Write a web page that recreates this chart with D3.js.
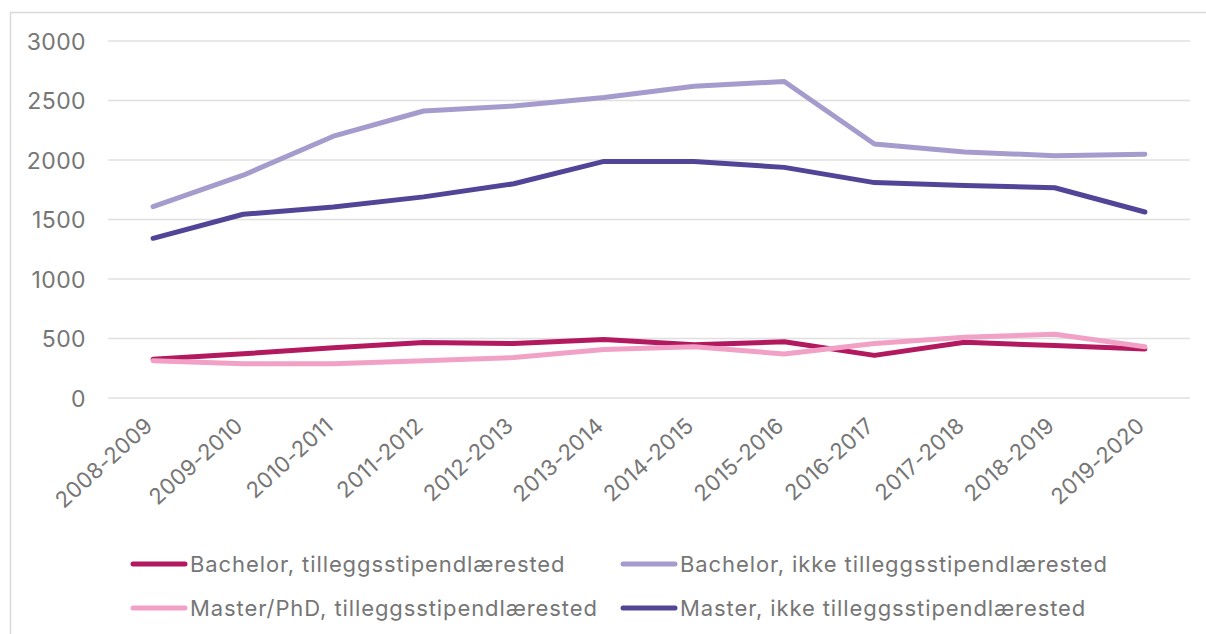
<!DOCTYPE html>
<html>
<head>
<meta charset="utf-8">
<script src="https://cdn.jsdelivr.net/npm/d3@7"></script>
<style>
  html, body { margin: 0; padding: 0; background: #fff; }
  svg { display: block; font-family: Inter, "Noto Sans", sans-serif; }
</style>
</head>
<body>
<svg id="chart" width="1206" height="634"></svg>
<script>
const categories = ["2008-2009","2009-2010","2010-2011","2011-2012","2012-2013","2013-2014","2014-2015","2015-2016","2016-2017","2017-2018","2018-2019","2019-2020"];
const bachelorTillegg = [325, 372, 422, 467, 458, 492, 447, 472, 358, 468, 441, 412];
const bachelorIkke = [1608, 1872, 2200, 2412, 2454, 2526, 2620, 2660, 2135, 2068, 2036, 2048];
const masterTillegg = [314, 287, 287, 312, 340, 408, 430, 370, 458, 510, 535, 430];
const masterIkke = [1342, 1544, 1605, 1690, 1800, 1988, 1988, 1938, 1810, 1785, 1767, 1563];
const yTicks = [0, 500, 1000, 1500, 2000, 2500, 3000];

const seriesNames = ["Bachelor, tilleggsstipendlærested","Bachelor, ikke tilleggsstipendlærested","Master/PhD, tilleggsstipendlærested","Master, ikke tilleggsstipendlærested"];
const seriesValues = [bachelorTillegg, bachelorIkke, masterTillegg, masterIkke];
const colors = ["#b3195e", "#a59bcc", "#f2a1c6", "#524597"];
const drawOrder = [1, 3, 0, 2];

const svg = d3.select("#chart");

// outer frame
svg.append("rect").attr("x", 10.5).attr("y", 12.5).attr("width", 1300).attr("height", 700)
  .attr("fill", "none").attr("stroke", "#d9d9d9").attr("stroke-width", 1.5);

const x = d3.scaleBand().domain(categories).range([108, 1190]);
const y = d3.scaleLinear().domain([0, 3000]).range([398, 41]);

// gridlines
svg.append("g").selectAll("line").data(yTicks).join("line")
  .attr("x1", 108).attr("x2", 1190)
  .attr("y1", d => y(d)).attr("y2", d => y(d))
  .attr("stroke", "#e0e0e0").attr("stroke-width", 1.6);

// y axis labels
const yAxis = d3.axisLeft(y).tickValues(yTicks).tickSize(0).tickPadding(0).tickFormat(d3.format("d"));
const gy = svg.append("g").attr("transform", "translate(86,0)").call(yAxis);
gy.select(".domain").remove();
gy.selectAll("text").attr("fill", "#767676").style("font-size", "23px")
  .style("font-family", "Inter, sans-serif").style("letter-spacing", "0.4px").attr("dy", "0.36em");

// x axis labels
const xAxis = d3.axisBottom(x).tickSize(0).tickPadding(0);
const gx = svg.append("g").attr("transform", "translate(0,398)").call(xAxis);
gx.select(".domain").remove();
gx.selectAll("text")
  .attr("fill", "#767676").style("font-size", "22px").style("font-family", "Inter, sans-serif")
  .style("letter-spacing", "0.3px")
  .attr("text-anchor", "end")
  .attr("transform", "translate(-4,24) rotate(-42)")
  .attr("dy", "0.35em").attr("y", 0).attr("x", 0);

// lines
const line = d3.line().x((d, i) => x(categories[i]) + x.bandwidth() / 2).y(d => y(d));
svg.append("g").selectAll("path").data(drawOrder).join("path")
  .attr("d", k => line(seriesValues[k]))
  .attr("fill", "none").attr("stroke", k => colors[k])
  .attr("stroke-width", 5).attr("stroke-linejoin", "round").attr("stroke-linecap", "round");

// legend
const legendPos = [[131, 564], [621, 564], [131, 608], [621, 608]];
const lg = svg.append("g").selectAll("g").data(seriesNames).join("g")
  .attr("transform", (d, i) => `translate(${legendPos[i][0]},${legendPos[i][1]})`);
lg.append("line").attr("x1", 2).attr("x2", 54).attr("y1", 0).attr("y2", 0)
  .attr("stroke", (d, i) => colors[i]).attr("stroke-width", 5).attr("stroke-linecap", "round");
lg.append("text").attr("x", 59).attr("y", 0).attr("dy", "0.36em")
  .attr("fill", "#767676").style("font-size", "22px").style("letter-spacing", "0.9px").text(d => d);
</script>
</body>
</html>
